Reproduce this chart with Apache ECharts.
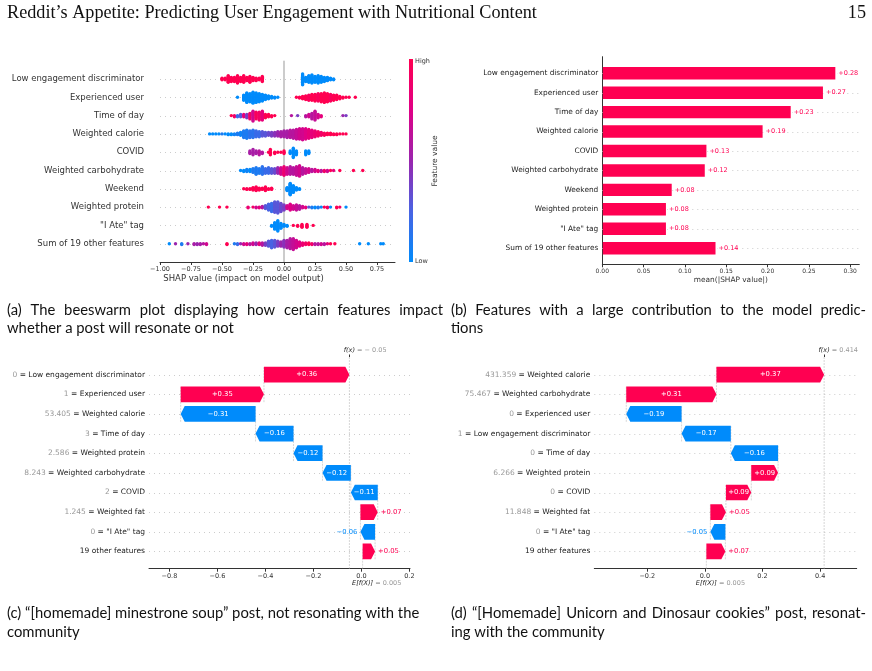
<!DOCTYPE html>
<html><head><meta charset="utf-8">
<script src="https://cdn.jsdelivr.net/npm/echarts@6/dist/echarts.min.js"></script>
<style>html,body{margin:0;padding:0;background:#fff}#c{width:872px;height:671px}</style>
</head><body><div id="c"></div>
<script>
// ================= DATA =================
// (a) beeswarm: bins of [SHAP value, number of posts in bin, feature value 0 (low) .. 1 (high)]
const beeCategories = ['Low engagement discriminator','Experienced user','Time of day','Weighted calorie','COVID','Weighted carbohydrate','Weekend','Weighted protein','"I Ate" tag','Sum of 19 other features'];
const beeLowEngagement = [[-0.50,3,1],[-0.475,3,1],[-0.45,9,1],[-0.425,6,1],[-0.40,6,1],[-0.375,10,1],[-0.35,6,1],[-0.325,9,1],[-0.30,5,1],[-0.275,8,1],[-0.25,5,1],[-0.225,4,1],[-0.20,3,1],[-0.175,7,1],
  [0.15,14,0],[0.175,6,0],[0.20,9,0],[0.225,11,0],[0.25,8,0],[0.275,10,0],[0.30,8,0],[0.325,6,0],[0.35,5,0],[0.375,3,0],[0.40,2,0]];
const beeExperienced = [[-0.375,1,0],[-0.325,8,0],[-0.30,14,0],[-0.275,12,0],[-0.25,16,0],[-0.225,14,0],[-0.20,12,0],[-0.175,10,0],[-0.15,7,0],[-0.125,5,0],[-0.10,3,0],[-0.075,2,0],[-0.05,1,0],
  [0.10,1,1],[0.125,2,1],[0.15,4,1],[0.175,6,1],[0.20,8,0.95],[0.225,9,1],[0.25,10,1],[0.275,11,0.95],[0.30,12,1],[0.325,14,1],[0.35,12,1],[0.375,10,0.95],[0.40,8,1],[0.425,7,1],[0.45,4,1],[0.475,2,1],[0.50,1,1],[0.525,1,1],[0.575,1,1]];
const beeTimeOfDay = [[-0.425,1,1],[-0.40,2,0.9],[-0.375,2,0.2],[-0.35,3,0.3],[-0.325,3,0.8],[-0.30,4,0.4],[-0.275,6,0.9],[-0.25,10,0.7],[-0.225,7,0.95],[-0.20,8,0.9],[-0.175,9,0.8],[-0.15,4,1],[-0.125,3,1],[-0.10,2,1],[-0.075,1,1],
  [0.06,1,0.6],[0.11,1,0.4],[0.175,2,0.6],[0.20,3,0.7],[0.225,6,0.6],[0.25,9,0.65],[0.275,4,0.7],[0.30,2,0.8],[0.475,1,0.5],[0.50,1,0.4]];
const beeCalorie = [[-0.60,1,0],[-0.575,1,0],[-0.55,1,0],[-0.525,1,0],[-0.50,1,0.1],[-0.475,1,0],[-0.45,2,0],[-0.425,2,0],[-0.40,2,0.05],[-0.375,3,0.1],[-0.35,5,0.05],[-0.325,10,0.1],[-0.30,12,0.1],[-0.275,10,0.15],[-0.25,11,0.15],[-0.225,9,0.2],[-0.20,8,0.2],[-0.175,7,0.3],[-0.15,6,0.3],[-0.125,5,0.35],[-0.10,6,0.4],[-0.075,6,0.45],[-0.05,7,0.5],[-0.025,8,0.55],
  [0.00,9,0.55],[0.025,10,0.55],[0.05,11,0.6],[0.075,12,0.6],[0.10,14,0.65],[0.125,15,0.7],[0.15,16,0.7],[0.175,15,0.75],[0.20,13,0.8],[0.225,11,0.8],[0.25,9,0.85],[0.275,7,0.9],[0.30,5,0.9],[0.325,4,0.95],[0.35,3,1],[0.375,3,1],[0.40,2,1],[0.425,2,1],[0.45,1,1],[0.475,1,1],[0.50,1,1]];
const beeCovid = [[-0.275,3,0.55],[-0.25,5,0.55],[-0.225,3,0.55],[-0.20,4,0.6],[-0.175,2,0.6],[-0.125,1,1],[-0.11,5,1],[-0.075,2,1],[-0.05,1,1],[-0.025,1,1],[0.00,3,1],
  [0.05,3,0],[0.075,8,0],[0.10,4,0],[0.175,4,0],[0.20,3,0]];
const beeCarbohydrate = [[-0.35,1,0],[-0.325,2,0],[-0.30,3,0.05],[-0.275,3,0],[-0.25,5,0.1],[-0.225,8,0.1],[-0.20,6,0.1],[-0.175,9,0.15],[-0.15,6,0.2],[-0.125,7,0.2],[-0.10,6,0.3],[-0.075,6,0.35],[-0.05,7,0.5],[-0.025,8,0.7],
  [0.00,10,0.85],[0.025,8,0.7],[0.05,9,0.6],[0.075,8,0.6],[0.10,10,0.65],[0.125,12,0.7],[0.15,8,0.6],[0.175,6,0.65],[0.20,5,0.7],[0.225,3,0.6],[0.25,3,0.7],[0.275,2,0.8],[0.30,2,0.6],[0.325,2,0.9],[0.35,2,0.7],[0.375,1,1],[0.40,1,0.8],[0.45,1,1],[0.56,1,1],[0.635,1,1]];
const beeWeekend = [[-0.325,1,1],[-0.30,2,1],[-0.275,2,1],[-0.25,5,1],[-0.225,7,1],[-0.20,4,1],[-0.175,3,1],[-0.15,7,1],[-0.125,2,1],[-0.10,3,1],
  [0.025,6,0],[0.05,20,0],[0.075,12,0],[0.10,5,0],[0.125,2,0]];
const beeProtein = [[-0.61,1,1],[-0.52,1,1],[-0.46,1,1],[-0.29,2,0.85],[-0.25,1,0.9],[-0.225,2,0.7],[-0.20,2,0.8],[-0.175,3,0.6],[-0.15,5,0.3],[-0.125,9,0.25],[-0.10,12,0.2],[-0.075,15,0.3],[-0.05,16,0.3],[-0.025,12,0.35],
  [0.00,8,0.4],[0.025,5,0.7],[0.05,9,0.75],[0.075,6,0.7],[0.10,8,0.65],[0.125,6,0.6],[0.15,3,0.7],[0.175,2,0.8],[0.20,1,0.3],[0.225,2,0.1],[0.25,2,0],[0.275,2,0.1],[0.30,1,0],[0.325,1,1],[0.35,2,0.9],[0.375,1,0],[0.425,2,1],[0.45,1,0.9],[0.50,1,0]];
const beeIAte = [[-0.10,2,0],[-0.075,8,0],[-0.05,12,0],[-0.025,6,0],[0.00,3,0],[0.025,2,0],
  [0.075,1,1],[0.11,2,1],[0.145,4,1],[0.185,4,1],[0.235,1,1]];
const beeOther = [[-0.925,1,0],[-0.875,1,0.5],[-0.825,2,0.1],[-0.775,1,0.5],[-0.725,2,0.55],[-0.70,2,0.5],[-0.675,2,0.55],[-0.65,1,0.6],[-0.625,2,0.7],[-0.46,2,1],[-0.40,1,0.1],[-0.375,2,0.2],[-0.35,1,0.5],[-0.325,2,0.7],[-0.30,2,0.8],[-0.275,2,0.6],[-0.25,3,0.7],[-0.225,3,0.5],[-0.20,3,0.8],[-0.175,4,0.6],[-0.15,4,0.4],[-0.125,7,0.3],[-0.10,10,0.25],[-0.075,9,0.3],[-0.05,7,0.4],[-0.025,6,0.5],
  [0.00,9,0.45],[0.025,10,0.55],[0.05,13,0.6],[0.075,14,0.65],[0.10,10,0.7],[0.125,6,0.75],[0.15,4,0.85],[0.175,3,0.9],[0.20,3,1],[0.225,2,0.9],[0.25,2,0.6],[0.275,2,0.6],[0.30,2,0.7],[0.325,2,0.6],[0.35,1,0.8],[0.375,1,1],[0.41,1,1],[0.61,1,0],[0.68,1,0],[0.78,1,0],[0.80,1,0]];
const beeRows = [beeLowEngagement, beeExperienced, beeTimeOfDay, beeCalorie, beeCovid, beeCarbohydrate, beeWeekend, beeProtein, beeIAte, beeOther];
const beeTicks = [-1, -0.75, -0.5, -0.25, 0, 0.25, 0.5, 0.75];

// (b) mean |SHAP| bar chart
const barCategories = ['Low engagement discriminator','Experienced user','Time of day','Weighted calorie','COVID','Weighted carbohydrate','Weekend','Weighted protein','"I Ate" tag','Sum of 19 other features'];
const barValues = [0.282, 0.267, 0.228, 0.194, 0.126, 0.124, 0.084, 0.077, 0.077, 0.137];
const barTicks = [0, 0.05, 0.10, 0.15, 0.20, 0.25, 0.30];

// (c) waterfall – "[homemade] minestrone soup"
const wfCFeatures = ['Low engagement discriminator','Experienced user','Weighted calorie','Time of day','Weighted protein','Weighted carbohydrate','COVID','Weighted fat','"I Ate" tag','19 other features'];
const wfCFeatureValues = ['0','1','53.405','3','2.586','8.243','2','1.245','0',''];
const wfCShap = [0.356, 0.347, -0.312, -0.158, -0.121, -0.118, -0.112, 0.072, -0.061, 0.052];
const wfCBase = 0.005;
const wfCTicks = [-0.8, -0.6, -0.4, -0.2, 0, 0.2];

// (d) waterfall – "[Homemade] Unicorn and Dinosaur cookies"
const wfDFeatures = ['Weighted calorie','Weighted carbohydrate','Experienced user','Low engagement discriminator','Time of day','Weighted protein','COVID','Weighted fat','"I Ate" tag','19 other features'];
const wfDFeatureValues = ['431.359','75.467','0','1','0','6.266','0','11.848','0',''];
const wfDShap = [0.374, 0.313, -0.192, -0.171, -0.164, 0.093, 0.088, 0.054, -0.052, 0.066];
const wfDBase = 0.005;
const wfDTicks = [-0.2, 0, 0.2, 0.4];

// ================= STYLE / HELPERS =================
const FONT = 'DejaVu Sans';
const RED = '#ff0051', BLUE = '#008bfb', AXIS = '#333333';
const CMAP = ['#008bfb', '#4963e3', '#9a25ae', '#e00086', '#ff0051'];
const WF_Y = [-0.9, 9.88];

function fmtTick(v, dec) { const s = v.toFixed(dec); return s.replace('-', '\u2212'); }
function fmtVal(v) {
  let s = v.toFixed(3).replace(/0+$/, '').replace(/\.$/, '');
  return s.charAt(0) === '-' ? '\u2212 ' + s.slice(1) : s;
}

// beeswarm layout: stack the posts of each bin symmetrically around the row
function beeswarm(rows) {
  const pts = [];
  rows.forEach((bins, r) => {
    const maxC = Math.max.apply(null, bins.map(b => b[1]));
    const maxLayer = Math.ceil((maxC - 1) / 2);
    const step = 0.36 / (maxLayer + 1);
    bins.forEach(b => {
      for (let j = 0; j < b[1]; j++) {
        const layer = Math.ceil(j / 2) * (j % 2 ? 1 : -1);
        pts.push([b[0], r + layer * step, b[2]]);
      }
    });
  });
  return pts;
}

function waterfall(shap, base) {
  const n = shap.length, bars = new Array(n);
  let cur = base;
  for (let k = n - 1; k >= 0; k--) { const s = cur, e = cur + shap[k]; bars[k] = [s, e, k, shap[k]]; cur = e; }
  const guides = [];
  for (let k = 0; k < n - 1; k++) guides.push([bars[k][0], k + 1 + 0.4, k - 0.4]);
  guides.push([cur, WF_Y[0], WF_Y[1]]);
  guides.push([base, WF_Y[1], WF_Y[1] - (WF_Y[1] - WF_Y[0]) / n]);
  return { bars, guides, fx: cur };
}

function hLine(color, dash) {
  return function (params, api) {
    const cs = params.coordSys;
    const y = Math.round(api.coord([api.value(0), api.value(1)])[1]) + 0.5;
    return { type: 'line', silent: true, shape: { x1: cs.x, y1: y, x2: cs.x + cs.width, y2: y }, style: { stroke: color, lineWidth: 1, lineDash: dash } };
  };
}
function vFull(color) {
  return function (params, api) {
    const cs = params.coordSys;
    const x = api.coord([api.value(0), api.value(1)])[0];
    return { type: 'line', silent: true, shape: { x1: x, y1: cs.y, x2: x, y2: cs.y + cs.height }, style: { stroke: color, lineWidth: 1 } };
  };
}
function vSeg(params, api) {
  const a = api.coord([api.value(0), api.value(1)]), b = api.coord([api.value(0), api.value(2)]);
  return { type: 'line', silent: true, shape: { x1: a[0], y1: a[1], x2: b[0], y2: b[1] }, style: { stroke: '#bbbbbb', lineWidth: 0.6, lineDash: [2, 1] } };
}
function renderBar(params, api) {
  const v = api.value(0), r = api.value(1);
  const p0 = api.coord([0, r]), p1 = api.coord([v, r]);
  const h = Math.abs(api.size([0, 0.64])[1]);
  return { type: 'group', children: [
    { type: 'rect', shape: { x: p0[0] + 0.5, y: p0[1] - h / 2, width: p1[0] - p0[0] - 0.5, height: h }, style: { fill: RED } },
    { type: 'text', x: p1[0] + 2, y: p1[1], style: { text: '+' + v.toFixed(2), fill: RED, font: '6.5px "' + FONT + '"', align: 'left', verticalAlign: 'middle', backgroundColor: '#ffffff', padding: [1, 1] } }
  ] };
}
function renderArrow(params, api) {
  const s = api.value(0), e = api.value(1), k = api.value(2), v = api.value(3);
  const p0 = api.coord([s, k]), p1 = api.coord([e, k]);
  const h = Math.abs(api.size([0, 0.8])[1]);
  const w = Math.abs(p1[0] - p0[0]);
  const dir = p1[0] >= p0[0] ? 1 : -1;
  const hl = Math.min(4, w);
  const y = p0[1], t = y - h / 2, b = y + h / 2;
  const col = v >= 0 ? RED : BLUE;
  const label = (v >= 0 ? '+' : '\u2212') + Math.abs(v).toFixed(2);
  const inside = w > 20;
  const tx = inside ? (p0[0] + p1[0]) / 2 : p1[0] + dir * 3;
  return { type: 'group', children: [
    { type: 'polygon', shape: { points: [[p0[0], t], [p1[0] - dir * hl, t], [p1[0], y], [p1[0] - dir * hl, b], [p0[0], b]] }, style: { fill: col } },
    { type: 'text', x: tx, y: y, style: { text: label, fill: inside ? '#ffffff' : col, font: '6.8px "' + FONT + '"', align: inside ? 'center' : (dir > 0 ? 'left' : 'right'), verticalAlign: 'middle' } }
  ] };
}

function xAxisMain(grid, min, max, ticks, dec, fs, extra) {
  return Object.assign({
    gridIndex: grid, type: 'value', min: min, max: max,
    axisLine: { show: true, onZero: false, lineStyle: { color: AXIS, width: 1 } },
    axisTick: { show: true, customValues: ticks, length: 3, lineStyle: { color: AXIS } },
    axisLabel: { customValues: ticks, formatter: v => fmtTick(v, dec), fontSize: fs, color: AXIS, margin: 4, fontFamily: FONT },
    splitLine: { show: false }
  }, extra || {});
}
function wfYAxis(grid, feats, vals) {
  return {
    gridIndex: grid, type: 'value', inverse: true, min: WF_Y[0], max: WF_Y[1],
    axisLine: { show: false, onZero: false }, axisTick: { show: false }, splitLine: { show: false },
    axisLabel: {
      customValues: feats.map((f, i) => i), margin: 4,
      formatter: v => vals[v] ? '{v|' + vals[v] + '}{n| = ' + feats[v] + '}' : '{n|' + feats[v] + '}',
      rich: { v: { color: '#999999', fontSize: 7.5, fontFamily: FONT }, n: { color: '#222222', fontSize: 7.5, fontFamily: FONT } }
    }
  };
}
function wfTopAxis(grid, min, max, fx) {
  const rest = ' = ' + fmtVal(fx);
  return {
    gridIndex: grid, type: 'value', position: 'top', min: min, max: max,
    axisLine: { show: false, onZero: false }, splitLine: { show: false },
    axisTick: { show: true, customValues: [fx], length: 2.5, lineStyle: { color: AXIS } },
    axisLabel: { customValues: [fx], margin: 3, formatter: () => '{h|' + rest + '}{f|f(x)}{g|' + rest + '}',
      rich: { h: { color: 'rgba(0,0,0,0)', fontSize: 6.5, fontFamily: FONT }, f: { color: '#222', fontSize: 6.5, fontStyle: 'italic', fontFamily: FONT }, g: { color: '#999999', fontSize: 6.5, fontFamily: FONT } } }
  };
}
function wfBaseAxis(grid, min, max, base) {
  const rest = ' = ' + fmtVal(base);
  return {
    gridIndex: grid, type: 'value', position: 'bottom', offset: 8, min: min, max: max,
    axisLine: { show: false, onZero: false }, axisTick: { show: false }, splitLine: { show: false },
    axisLabel: { customValues: [base], margin: 3, formatter: () => '{h|' + rest + '}{e|E[f(X)]}{g|' + rest + '}',
      rich: { h: { color: 'rgba(0,0,0,0)', fontSize: 6.5, fontFamily: FONT }, e: { color: '#222', fontSize: 6.5, fontStyle: 'italic', fontFamily: FONT }, g: { color: '#999999', fontSize: 6.5, fontFamily: FONT } } }
  };
}

const mctx = document.createElement('canvas').getContext('2d');
function textLine(text, x, y, font, width) {
  if (!width) return [{ type: 'text', x: x, y: y, style: { text: text, font: font, fill: '#111', verticalAlign: 'middle' } }];
  mctx.font = font;
  const words = text.split(' ');
  const ws = words.map(w => mctx.measureText(w).width);
  const gap = Math.max(mctx.measureText(' ').width, (width - ws.reduce((a, b) => a + b, 0)) / (words.length - 1));
  let cx = x;
  return words.map((w, i) => { const el = { type: 'text', x: cx, y: y, style: { text: w, font: font, fill: '#111', verticalAlign: 'middle' } }; cx += ws[i] + gap; return el; });
}

// ================= BUILD =================
const beePoints = beeswarm(beeRows);
const wfC = waterfall(wfCShap, wfCBase);
const wfD = waterfall(wfDShap, wfDBase);
const CAP = '14.8px Lato';
const gradStops = CMAP.map((c, i) => ({ offset: i / (CMAP.length - 1), color: c }));

const graphics = [].concat(
  [{ type: 'text', x: 7, y: 13, style: { text: 'Reddit\u2019s Appetite: Predicting User Engagement with Nutritional Content', font: '18.2px "Liberation Serif"', fill: '#111', verticalAlign: 'middle' } },
   { type: 'text', x: 866, y: 13, style: { text: '15', font: '18.2px "Liberation Serif"', fill: '#111', align: 'right', verticalAlign: 'middle' } }],
  textLine('(a) The beeswarm plot displaying how certain features impact', 7, 310, CAP, 436),
  textLine('whether a post will resonate or not', 7, 328, CAP),
  textLine('(b) Features with a large contribution to the model predic-', 451, 310, CAP, 415),
  textLine('tions', 451, 328, CAP),
  textLine('(c) \u201c[homemade] minestrone soup\u201d post, not resonating with the', 7, 613, CAP),
  textLine('community', 7, 632, CAP),
  textLine('(d) \u201c[Homemade] Unicorn and Dinosaur cookies\u201d post, resonat-', 451, 613, CAP, 415),
  textLine('ing with the community', 451, 632, CAP),
  [{ type: 'rect', shape: { x: 409, y: 59, width: 4, height: 203 }, style: { fill: new echarts.graphic.LinearGradient(0, 1, 0, 0, gradStops) } },
   { type: 'text', x: 415, y: 61, style: { text: 'High', font: '6.5px "' + FONT + '"', fill: AXIS, verticalAlign: 'middle' } },
   { type: 'text', x: 415, y: 261, style: { text: 'Low', font: '6.5px "' + FONT + '"', fill: AXIS, verticalAlign: 'middle' } },
   { type: 'text', x: 435, y: 161, rotation: Math.PI / 2, style: { text: 'Feature value', font: '7.5px "' + FONT + '"', fill: AXIS, align: 'center', verticalAlign: 'middle' } }]
);

const option = {
  animation: false,
  backgroundColor: '#ffffff',
  textStyle: { fontFamily: FONT },
  grid: [
    { left: 160, top: 60.7, width: 235, height: 201.3, containLabel: false, outerBoundsMode: 'none' },
    { left: 602.3, top: 56.7, width: 257, height: 207.6, containLabel: false, outerBoundsMode: 'none' },
    { left: 149, top: 357, width: 261, height: 211.7, containLabel: false, outerBoundsMode: 'none' },
    { left: 594.3, top: 357, width: 262.4, height: 211.7, containLabel: false, outerBoundsMode: 'none' }
  ],
  xAxis: [
    xAxisMain(0, -1, 0.895, beeTicks, 2, 6.5, { name: 'SHAP value (impact on model output)', nameLocation: 'middle', nameGap: 11, nameTextStyle: { fontSize: 8.5, color: AXIS, fontFamily: FONT, padding: [0, 68, 0, 0] } }),
    xAxisMain(1, 0, 0.311, barTicks, 2, 6, { name: 'mean(|SHAP value|)', nameLocation: 'middle', nameGap: 12, nameTextStyle: { fontSize: 7.4, color: AXIS, fontFamily: FONT } }),
    xAxisMain(2, -0.885, 0.2025, wfCTicks, 1, 6.5),
    wfTopAxis(2, -0.885, 0.2025, wfC.fx),
    wfBaseAxis(2, -0.885, 0.2025, wfCBase),
    xAxisMain(3, -0.384, 0.527, wfDTicks, 1, 6.5),
    wfTopAxis(3, -0.384, 0.527, wfD.fx),
    wfBaseAxis(3, -0.384, 0.527, wfDBase)
  ],
  yAxis: [
    { gridIndex: 0, type: 'value', inverse: true, min: -1, max: 10, axisLine: { show: false, onZero: false }, axisTick: { show: false }, splitLine: { show: false },
      axisLabel: { customValues: beeCategories.map((c, i) => i), formatter: v => beeCategories[v], fontSize: 8.5, color: AXIS, margin: 16, fontFamily: FONT } },
    { gridIndex: 1, type: 'value', inverse: true, min: -0.85, max: 9.83, axisLine: { show: true, onZero: false, lineStyle: { color: AXIS, width: 1 } }, axisTick: { show: false }, splitLine: { show: false },
      axisLabel: { customValues: barCategories.map((c, i) => i), formatter: v => barCategories[v], fontSize: 7.4, color: '#222', margin: 4, fontFamily: FONT } },
    wfYAxis(2, wfCFeatures, wfCFeatureValues),
    wfYAxis(3, wfDFeatures, wfDFeatureValues)
  ],
  visualMap: { show: false, type: 'continuous', dimension: 2, min: 0, max: 1, seriesIndex: 2, inRange: { color: CMAP } },
  series: [
    { type: 'custom', xAxisIndex: 0, yAxisIndex: 0, z: 1, silent: true, data: beeCategories.map((c, i) => [0, i]), encode: { x: 0, y: 1 }, renderItem: hLine('#cccccc', [1, 4]) },
    { type: 'custom', xAxisIndex: 0, yAxisIndex: 0, z: 2, silent: true, data: [[0, 0]], encode: { x: 0, y: 1 }, renderItem: vFull('#999999') },
    { type: 'scatter', name: 'beeswarm', xAxisIndex: 0, yAxisIndex: 0, z: 5, symbolSize: 3.4, large: false, progressive: 0, data: beePoints, itemStyle: { opacity: 1 } },
    { type: 'custom', xAxisIndex: 1, yAxisIndex: 1, z: 1, silent: true, data: barCategories.map((c, i) => [0, i]), encode: { x: 0, y: 1 }, renderItem: hLine('#cccccc', [1, 4]) },
    { type: 'custom', xAxisIndex: 1, yAxisIndex: 1, z: 5, data: barValues.map((v, i) => [v, i]), encode: { x: 0, y: 1 }, renderItem: renderBar },
    { type: 'custom', xAxisIndex: 2, yAxisIndex: 2, z: 1, silent: true, data: wfCFeatures.map((c, i) => [0, i]), encode: { x: 0, y: 1 }, renderItem: hLine('#cccccc', [1, 4]) },
    { type: 'custom', xAxisIndex: 2, yAxisIndex: 2, z: 2, silent: true, data: wfC.guides, encode: { x: 0, y: [1, 2] }, renderItem: vSeg },
    { type: 'custom', xAxisIndex: 2, yAxisIndex: 2, z: 5, data: wfC.bars, encode: { x: [0, 1], y: 2 }, renderItem: renderArrow },
    { type: 'custom', xAxisIndex: 5, yAxisIndex: 3, z: 1, silent: true, data: wfDFeatures.map((c, i) => [0, i]), encode: { x: 0, y: 1 }, renderItem: hLine('#cccccc', [1, 4]) },
    { type: 'custom', xAxisIndex: 5, yAxisIndex: 3, z: 2, silent: true, data: wfD.guides, encode: { x: 0, y: [1, 2] }, renderItem: vSeg },
    { type: 'custom', xAxisIndex: 5, yAxisIndex: 3, z: 5, data: wfD.bars, encode: { x: [0, 1], y: 2 }, renderItem: renderArrow }
  ],
  graphic: { elements: graphics }
};

const chart = echarts.init(document.getElementById('c'), null, { renderer: 'canvas', width: 872, height: 671 });
chart.setOption(option);
</script>
</body></html>
